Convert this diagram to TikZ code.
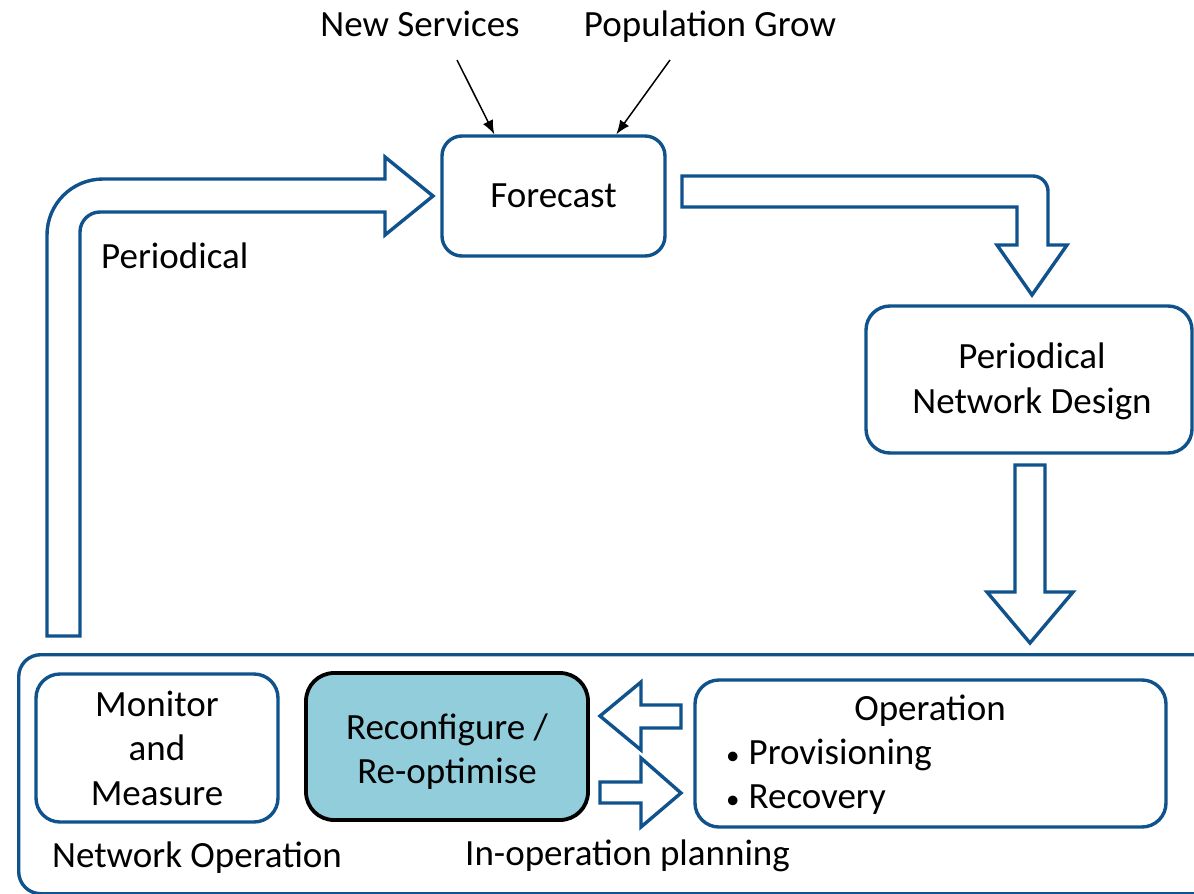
\documentclass[tikz,border=0pt]{standalone}
\usepackage{fontspec}
\setmainfont{Carlito}
\usepackage{tikz}
\usetikzlibrary{arrows.meta,positioning}
\definecolor{lineblue}{RGB}{16,82,140}
\definecolor{fillblue}{HTML}{92CDDC}
\newcommand{\blt}{{\fontsize{27}{27}\selectfont•}\hspace{9pt}}

\begin{document}
\begin{tikzpicture}[x=1pt,y=-1pt,>={Latex[length=14pt,width=11pt]},
  every node/.style={font=\fontsize{37}{44.5}\selectfont,inner sep=0pt},
  box/.style={draw=lineblue,line width=3.4pt,rounded corners=24pt,align=center},
  hollow/.style={draw=lineblue,line width=3.4pt,fill=white,line join=miter}]
\useasboundingbox (0,0) rectangle (1194,894);
\clip (0,0) rectangle (1194,894);
\node[anchor=base] (ns) at (420,36) {New Services};
\node[anchor=base] (pg) at (710,36) {Population Grow};
\node[box,rounded corners=20pt,minimum width=223pt,minimum height=120pt] (fc) at (553.5,196) {Forecast};
\node[box,minimum width=326pt,minimum height=147pt] (pnd) at (1029,379.5) {};
\node[align=center] (pndt) at (1032,381.5) {Periodical\\Network Design};
\node[anchor=west] (per) at (101,256) {Periodical};
\coordinate (nsa) at (457,60);
\coordinate (pga) at (670,60);
\draw[->,line width=1.5pt] (nsa) -- ([xshift=54pt]fc.north west);
\draw[->,line width=1.5pt] (pga) -- ([xshift=176pt]fc.north west);
\draw[hollow] (47,636) -- (47,235) .. controls (47,204) and (72,179) .. (103,179) -- (385,179) -- (385,157) -- (433,196) -- (385,235) -- (385,212) -- (100,212) .. controls (89,212) and (80,221) .. (80,232) -- (80,636) -- cycle;
\draw[hollow] (682,176) -- (1033,176) .. controls (1041,176) and (1048,183) .. (1048,191) -- (1048,245) -- (1067,245) -- (1032,295) -- (997,245) -- (1017,245) -- (1017,207) -- (682,207) -- cycle;
\draw[hollow] (1015,465) -- (1045,465) -- (1045,592) -- (1073,592) -- (1030,643) -- (987,592) -- (1015,592) -- cycle;
\node[box,rounded corners=22pt,minimum width=1223pt,minimum height=239pt,anchor=north west] (frm) at (17,653) {};
\node[box,minimum width=242pt,minimum height=148pt] (mm) at (157,748) {Monitor\\and\\Measure};
\node[box,draw=black,line width=3.8pt,fill=fillblue,rounded corners=28pt,minimum width=282pt,minimum height=147pt] (rc) at (447,746.5) {};
\node[align=center] (rct) at (447,751.5) {Reconfigure /\\Re-optimise};
\node[box,minimum width=471pt,minimum height=147pt] (op) at (930.5,753.5) {};
\node (opt) at (930,711) {Operation};
\node[anchor=west] (prov) at (726,755) {\blt Provisioning};
\node[anchor=west] (rec) at (726,800) {\blt Recovery};
\draw[hollow] (681,705) -- (641,705) -- (641,682) -- (600,716) -- (641,750) -- (641,728) -- (681,728) -- cycle;
\draw[hollow] (600,782) -- (641,782) -- (641,758) -- (681,793) -- (641,827) -- (641,803) -- (600,803) -- cycle;
\node[anchor=west] (nop) at (52,858) {Network Operation};
\node[anchor=west] (iop) at (465,856) {In-operation planning};
\end{tikzpicture}
\end{document}
